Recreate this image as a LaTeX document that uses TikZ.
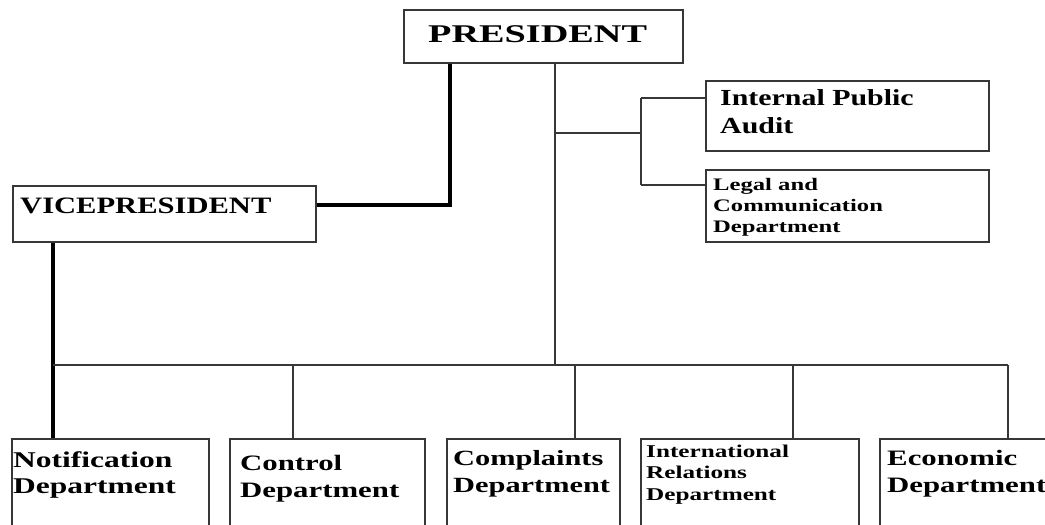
\documentclass[tikz,border=0pt]{standalone}
\usepackage{fontspec}
\setmainfont{Liberation Serif}
% horizontally widened serif faces for the labels
\newfontfamily\wideA[FakeStretch=1.5]{Liberation Serif}
\newfontfamily\wideB[FakeStretch=1.3]{Liberation Serif}
\newfontfamily\wideC[FakeStretch=1.4]{Liberation Serif}
\definecolor{edgegray}{RGB}{55,55,55}
\begin{document}
\begin{tikzpicture}[x=1pt,y=-1pt,
  box/.style={draw=edgegray, line width=1.5pt, fill=white, inner sep=0pt, anchor=north west},
  lbl/.style={inner sep=0pt, anchor=base west, align=left, text=black},
  thinline/.style={draw=edgegray, line width=1.4pt},
  heavyline/.style={draw=black, line width=4.5pt}]
\useasboundingbox (0,0) rectangle (1045,525);
\clip (0,0) rectangle (1045,525);
\fill[white] (0,0) rectangle (1045,525);

% boxes
\node[box, minimum width=279pt, minimum height=53pt] (P) at (403,9) {};
\node[box, minimum width=303pt, minimum height=56pt] (VP) at (12,185) {};
\node[box, minimum width=283pt, minimum height=70pt] (IPA) at (705,80) {};
\node[box, minimum width=283pt, minimum height=72pt] (LCD) at (705,169) {};
\node[box, minimum width=197pt, minimum height=130pt] (ND) at (11,438) {};
\node[box, minimum width=195pt, minimum height=130pt] (CD) at (229,438) {};
\node[box, minimum width=173pt, minimum height=130pt] (QD) at (446,438) {};
\node[box, minimum width=218pt, minimum height=130pt] (ID) at (640,438) {};
\node[box, minimum width=200pt, minimum height=130pt] (ED) at (879,438) {};

% labels (anchored at the baseline of their last line)
\node[lbl, font=\wideA\bfseries\fontsize{25.5}{28}\selectfont] (tP) at (428,42) {PRESIDENT};
\node[lbl, font=\wideB\bfseries\fontsize{23.5}{26}\selectfont] (tVP) at (20,213) {VICEPRESIDENT};
\node[lbl, font=\wideB\bfseries\fontsize{23}{28}\selectfont] (tIPA) at (720,133) {Internal Public\\Audit};
\node[lbl, font=\wideC\bfseries\fontsize{17.6}{21}\selectfont] (tLCD) at (713,232) {Legal and\\Communication\\Department};
\node[lbl, font=\wideC\bfseries\fontsize{22.5}{26}\selectfont] (tND) at (13,493) {Notification\\Department};
\node[lbl, font=\wideC\bfseries\fontsize{22}{27}\selectfont] (tCD) at (240,497) {Control\\Department};
\node[lbl, font=\wideC\bfseries\fontsize{21.7}{27}\selectfont] (tQD) at (453,492) {Complaints\\Department};
\node[lbl, font=\wideC\bfseries\fontsize{18}{21.5}\selectfont] (tID) at (646,500) {International\\Relations\\Department};
\node[lbl, font=\wideC\bfseries\fontsize{22}{27}\selectfont] (tED) at (887,492) {Economic\\Department};

% junction points
\coordinate (jV) at (450,205);
\coordinate (xN) at (53,365);
\coordinate (xP) at (555,365);
\coordinate (busR) at (1008,365);
\coordinate (dC) at (293,365);
\coordinate (dQ) at (575,365);
\coordinate (dI) at (793,365);
\coordinate (sB) at (641,133);
\coordinate (sT) at (641,98);
\coordinate (sL) at (641,185);

% president to vice president, and on to notification
\draw[heavyline] (P.south -| jV) -- (jV) -- (VP.east |- jV);
\draw[heavyline] (VP.south -| xN) -- (ND.north -| xN);

% main trunk and bus
\draw[thinline] (P.south -| xP) -- (xP);
\draw[thinline] (xN) -- (busR);
\draw[thinline] (dC) -- (CD.north -| dC);
\draw[thinline] (dQ) -- (QD.north -| dQ);
\draw[thinline] (dI) -- (ID.north -| dI);
\draw[thinline] (busR) -- (ED.north -| busR);

% staff units
\draw[thinline] (xP |- sB) -- (sB);
\draw[thinline] (sT) -- (sL);
\draw[thinline] (sT) -- (IPA.west |- sT);
\draw[thinline] (sL) -- (LCD.west |- sL);
\end{tikzpicture}
\end{document}
